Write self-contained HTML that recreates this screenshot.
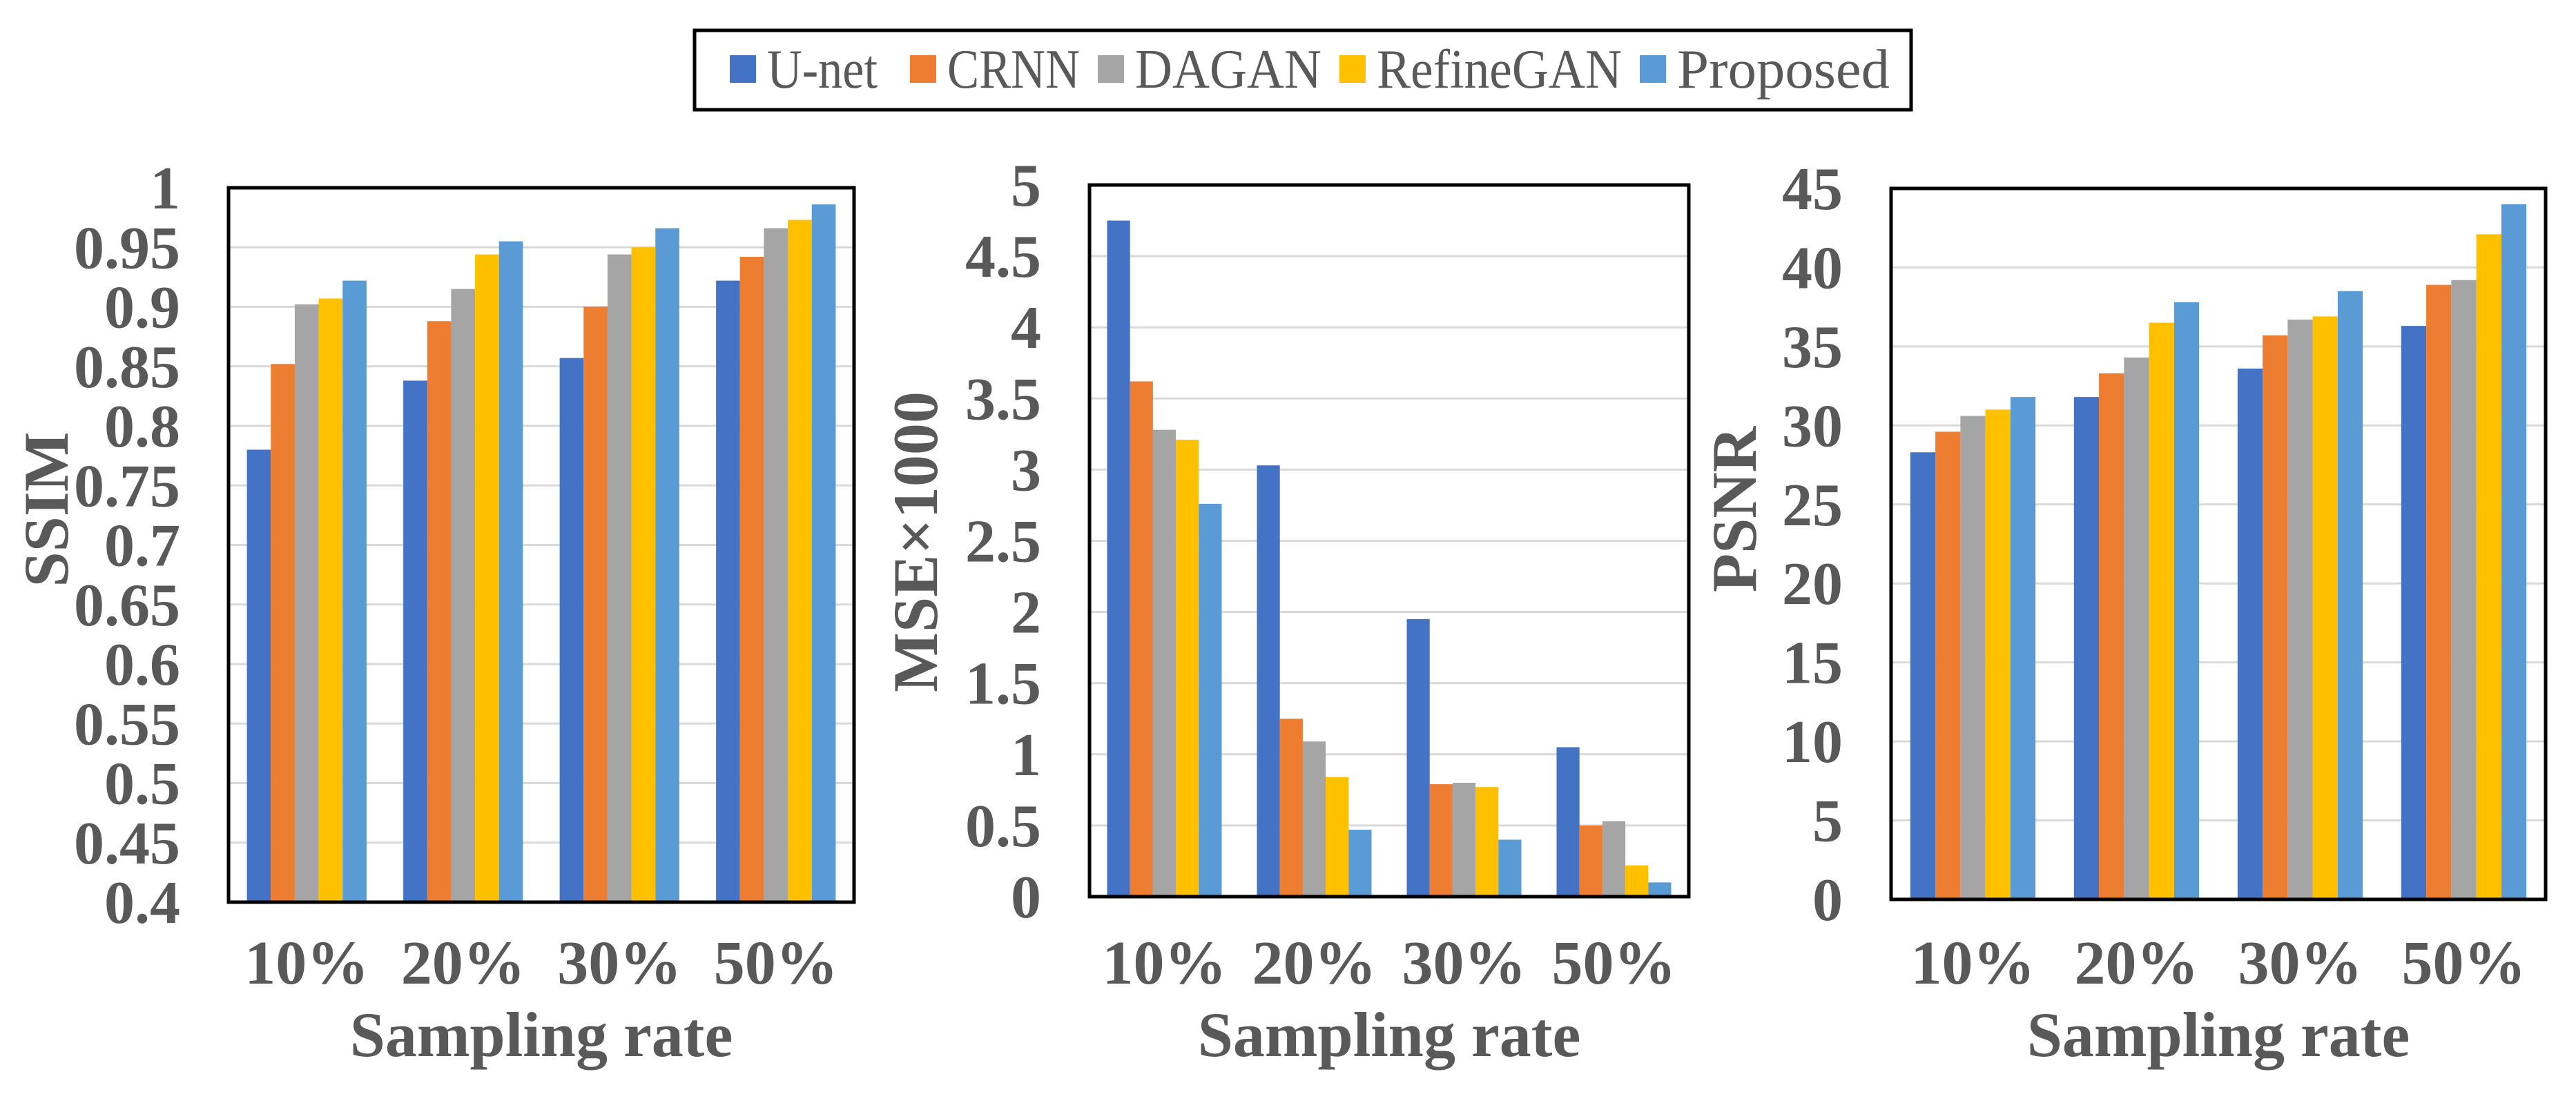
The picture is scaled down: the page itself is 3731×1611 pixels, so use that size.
<!DOCTYPE html>
<html><head><meta charset="utf-8"><style>
html,body{margin:0;padding:0;background:#fff;}
svg{display:block;}
</style></head><body>
<svg id="chart" width="3731" height="1611" xmlns="http://www.w3.org/2000/svg">
<g id="legend">
<rect x="1006" y="44" width="1762" height="115" fill="#fff" stroke="#000" stroke-width="5"/>
</g>
</svg>
<script>
const categories = ["10%","20%","30%","50%"];
const seriesNames = ["U-net","CRNN","DAGAN","RefineGAN","Proposed"];
const colors = ["#4472C4","#ED7D31","#A5A5A5","#FFC000","#5B9BD5"];
const ssimUnet = [0.78,0.838,0.857,0.922];
const ssimCrnn = [0.852,0.888,0.900,0.942];
const ssimDagan = [0.902,0.915,0.944,0.966];
const ssimRefine = [0.907,0.944,0.950,0.973];
const ssimProposed = [0.922,0.955,0.966,0.986];
const ssimTicks = ["0.4","0.45","0.5","0.55","0.6","0.65","0.7","0.75","0.8","0.85","0.9","0.95","1"];
const mseUnet = [4.75,3.03,1.95,1.05];
const mseCrnn = [3.62,1.25,0.79,0.50];
const mseDagan = [3.28,1.09,0.80,0.53];
const mseRefine = [3.21,0.84,0.77,0.22];
const mseProposed = [2.76,0.47,0.40,0.10];
const mseTicks = ["0","0.5","1","1.5","2","2.5","3","3.5","4","4.5","5"];
const psnrUnet = [28.3,31.8,33.6,36.3];
const psnrCrnn = [29.6,33.3,35.7,38.9];
const psnrDagan = [30.6,34.3,36.7,39.2];
const psnrRefine = [31.0,36.5,36.9,42.1];
const psnrProposed = [31.8,37.8,38.5,44.0];
const psnrTicks = ["0","5","10","15","20","25","30","35","40","45"];

const NS="http://www.w3.org/2000/svg";
const svg=document.getElementById('chart');
function mk(tag,attrs,parent){const e=document.createElementNS(NS,tag);for(const k in attrs)e.setAttribute(k,attrs[k]);(parent||svg).appendChild(e);return e;}

// legend
const lg=document.getElementById('legend');
const legX=[1057,1318,1590,1940,2375];
const legW=[160,192,270,355,308];
seriesNames.forEach((n,i)=>{
  const sw=mk('rect',{x:legX[i],y:80,width:38,height:40,fill:colors[i]},lg);
  
  
  const t=mk('text',{x:legX[i]+54,y:127,'font-family':'Liberation Serif, serif','font-size':80,fill:'#595959',textLength:legW[i],lengthAdjust:'spacingAndGlyphs'},lg);
  t.textContent=n;
  
  
});

function drawPanel(cfg){
  const g=mk('g',{});
  
  
  const {x0,x1,y0,y1,min,max}=cfg;
  const yS=v=>y1-(v-min)/(max-min)*(y1-y0);
  cfg.ticks.forEach(tk=>{
    const v=parseFloat(tk);const y=yS(v);
    if(v!==min&&v!==max){const gl=mk('line',{x1:x0,x2:x1,y1:y,y2:y,stroke:'#d9d9d9','stroke-width':3},g);
      
      }
    const t=mk('text',{x:x0-70,y:y+30,'text-anchor':'end','font-family':'Liberation Serif, serif','font-weight':'bold','font-size':88,fill:'#595959'},g);
    t.textContent=tk;
    
    
  });
  const gw=(x1-x0)/categories.length;const bw=gw*0.765/5;
  cfg.series.forEach((arr,si)=>{
    arr.forEach((v,ci)=>{
      const bx=x0+gw*ci+(gw-bw*5)/2+bw*si;const y=yS(v);
      const r=mk('rect',{x:bx,y:y,width:bw,height:y1-y,fill:colors[si]},g);
      
      
    });
  });
  categories.forEach((c,ci)=>{
    const t=mk('text',{x:x0+gw*(ci+0.5),y:1425,'text-anchor':'middle','font-family':'Liberation Serif, serif','font-weight':'bold','font-size':90,fill:'#595959'},g);
    t.textContent=c;
    
    
  });
  const fr=mk('rect',{x:x0,y:y0,width:x1-x0,height:y1-y0,fill:'none',stroke:'#000','stroke-width':5},g);
  
  
  const xt=mk('text',{x:(x0+x1)/2,y:1530,'text-anchor':'middle','font-family':'Liberation Serif, serif','font-weight':'bold','font-size':92,fill:'#595959'},g);
  xt.textContent='Sampling rate';
  
  
  const yt=mk('text',{x:0,y:0,'text-anchor':'middle','font-family':'Liberation Serif, serif','font-weight':'bold','font-size':92,fill:'#595959',transform:`translate(${cfg.tx},${cfg.ty}) rotate(-90)`},g);
  yt.textContent=cfg.title;
  
  
}
drawPanel({name:'ssim',x0:331,x1:1237,y0:272,y1:1307,min:0.4,max:1,ticks:ssimTicks,
  series:[ssimUnet,ssimCrnn,ssimDagan,ssimRefine,ssimProposed],title:'SSIM',tx:98,ty:738});
drawPanel({name:'mse',x0:1578,x1:2446,y0:268,y1:1299,min:0,max:5,ticks:mseTicks,
  series:[mseUnet,mseCrnn,mseDagan,mseRefine,mseProposed],title:'MSE×1000',tx:1357,ty:785});
drawPanel({name:'psnr',x0:2739,x1:3687,y0:273,y1:1303,min:0,max:45,ticks:psnrTicks,
  series:[psnrUnet,psnrCrnn,psnrDagan,psnrRefine,psnrProposed],title:'PSNR',tx:2543,ty:738});
</script>
</body></html>
